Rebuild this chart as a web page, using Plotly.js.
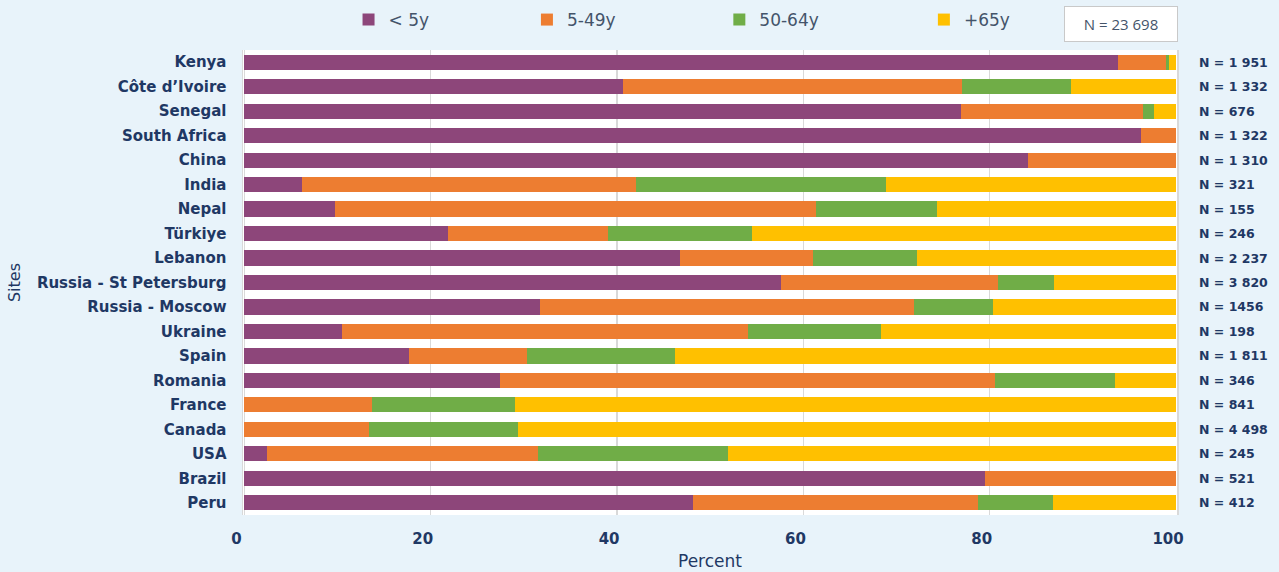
<!DOCTYPE html>
<html>
<head>
<meta charset="utf-8">
<script src="https://cdn.plot.ly/plotly-3.0.1.min.js"></script>
<style>
html, body { margin: 0; padding: 0; background: #E8F3FA; }
#chart { width: 1279px; height: 572px; }
</style>
</head>
<body>
<div id="chart"></div>
<script>
const sites = ['Kenya', 'Côte d’Ivoire', 'Senegal', 'South Africa', 'China', 'India', 'Nepal', 'Türkiye', 'Lebanon',
  'Russia - St Petersburg', 'Russia - Moscow', 'Ukraine', 'Spain', 'Romania', 'France', 'Canada', 'USA', 'Brazil', 'Peru'];
const under5 = [93.8, 40.6, 76.9, 96.2, 84.1, 6.2, 9.7, 21.9, 46.8, 57.6, 31.7, 10.5, 17.7, 27.4, 0, 0, 2.4, 79.5, 48.2];
const age5to49 = [5.1, 36.4, 19.5, 3.8, 15.9, 35.8, 51.7, 17.1, 14.2, 23.3, 40.2, 43.6, 12.6, 53.2, 13.7, 13.4, 29.1, 20.5, 30.5];
const age50to64 = [0.3, 11.7, 1.2, 0, 0, 26.9, 12.9, 15.5, 11.2, 6.0, 8.4, 14.2, 15.9, 12.8, 15.3, 16.0, 20.4, 0, 8.1];
const age65plus = [0.8, 11.3, 2.4, 0, 0, 31.1, 25.7, 45.5, 27.8, 13.1, 19.7, 31.7, 53.8, 6.6, 71.0, 70.6, 48.1, 0, 13.2];
const nLabels = ['N = 1 951', 'N = 1 332', 'N = 676', 'N = 1 322', 'N = 1 310', 'N = 321', 'N = 155', 'N = 246', 'N = 2 237',
  'N = 3 820', 'N = 1456', 'N = 198', 'N = 1 811', 'N = 346', 'N = 841', 'N = 4 498', 'N = 245', 'N = 521', 'N = 412'];
const seriesNames = ['< 5y', '5-49y', '50-64y', '+65y'];
const totalLabel = 'N = 23 698';

const colors = ['#8D467A', '#ED7D31', '#70AD47', '#FFC000'];
const values = [under5, age5to49, age50to64, age65plus];
const legendIds = ['legend', 'legend2', 'legend3', 'legend4'];
const legendX = [0.113, 0.304, 0.510, 0.729];
const navy = '#1F3864';

const traces = values.map((v, i) => ({
  type: 'bar',
  orientation: 'h',
  name: seriesNames[i],
  y: sites,
  x: v,
  legend: legendIds[i],
  marker: { color: colors[i], line: { width: 0 } },
  hoverinfo: 'skip'
}));

const annotations = sites.map((s, i) => ({
  xref: 'paper', yref: 'y',
  x: 1.0214, y: s,
  xanchor: 'left', yanchor: 'middle',
  text: nLabels[i],
  showarrow: false,
  font: { family: 'DejaVu Sans', size: 12.5, color: navy, weight: 'bold' }
}));
annotations.push({
  xref: 'paper', yref: 'paper',
  x: 0.9405, y: 1.055,
  xanchor: 'center', yanchor: 'middle',
  text: totalLabel,
  showarrow: false,
  bgcolor: '#FFFFFF',
  bordercolor: '#C9C9C9',
  borderwidth: 1,
  borderpad: 7,
  width: 98,
  font: { family: 'Open Sans', size: 15, color: '#44546A' }
});

const layout = {
  width: 1279, height: 572,
  margin: { l: 243, r: 102, t: 50, b: 57, pad: 0, autoexpand: false },
  paper_bgcolor: '#E8F3FA',
  plot_bgcolor: '#FFFFFF',
  barmode: 'stack',
  bargap: 0.38,
  showlegend: true,
  xaxis: {
    range: [-0.15, 100.1],
    dtick: 20,
    tick0: 0,
    showgrid: true,
    gridcolor: '#D9D9D9',
    gridwidth: 1.5,
    zeroline: false,
    ticks: '',
    ticklabelshift: -8,
    ticklabelstandoff: 13,
    tickfont: { family: 'DejaVu Sans', size: 15, color: navy, weight: 'bold' },
    title: { text: 'Percent', standoff: 8, font: { family: 'DejaVu Sans', size: 17, color: navy } },
    fixedrange: true
  },
  yaxis: {
    autorange: 'reversed',
    type: 'category',
    showgrid: false,
    zeroline: false,
    showline: true,
    mirror: true,
    linecolor: '#D9D9D9',
    linewidth: 1.5,
    ticks: '',
    ticklabelstandoff: 12,
    tickfont: { family: 'DejaVu Sans', size: 15, color: navy, weight: 'bold' },
    title: { text: 'Sites', standoff: 12, font: { family: 'DejaVu Sans', size: 16, color: navy } },
    fixedrange: true
  },
  annotations: annotations
};

legendIds.forEach((id, i) => {
  layout[id] = {
    orientation: 'h',
    x: legendX[i], xanchor: 'left',
    yref: 'container', y: 0.965, yanchor: 'middle',
    bgcolor: 'rgba(0,0,0,0)',
    font: { family: 'DejaVu Sans', size: 17, color: '#44546A' }
  };
});

Plotly.newPlot('chart', traces, layout, { displayModeBar: false, staticPlot: true });
</script>
</body>
</html>
